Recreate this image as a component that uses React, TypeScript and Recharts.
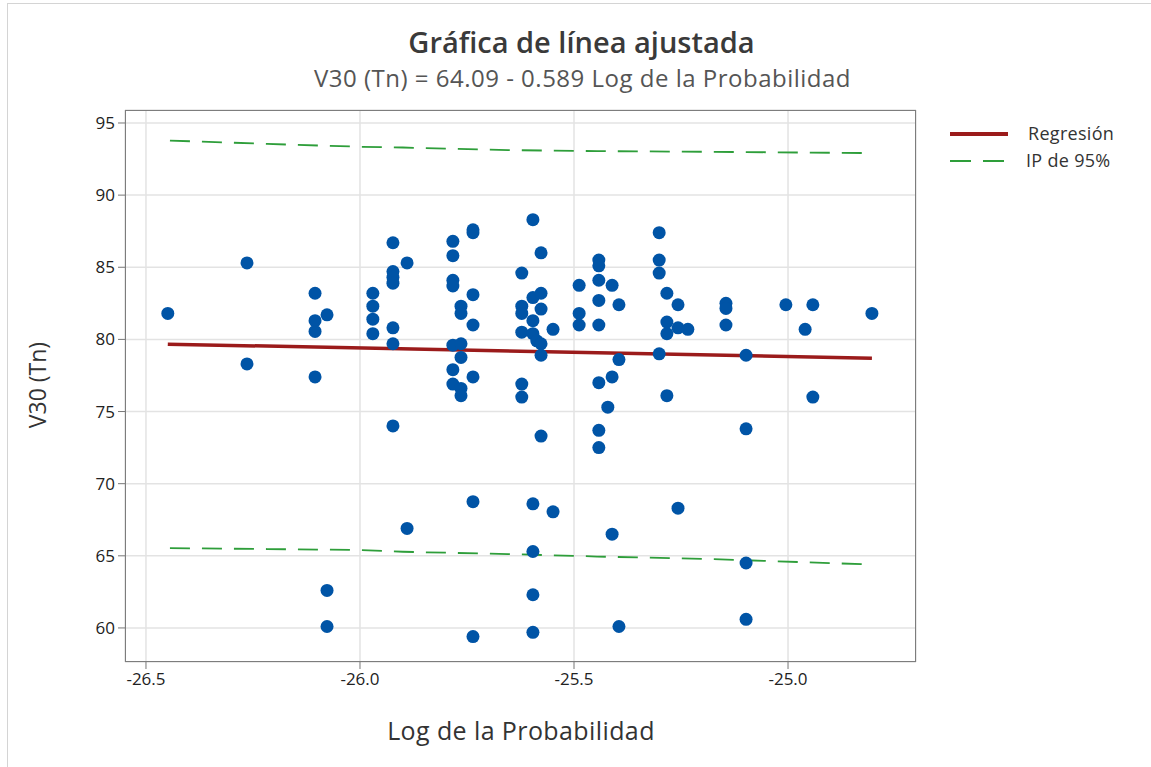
import React from 'react';
import { ComposedChart, Scatter, XAxis, YAxis, CartesianGrid } from 'recharts';

// observed points: Log de la Probabilidad vs V30 (Tn)
const logProb = [
  -26.449, -26.264, -26.264, -26.105, -26.105, -26.105, -26.105, -26.077, -26.077, -26.077,
  -25.97, -25.97, -25.97, -25.97, -25.923, -25.923, -25.923, -25.923, -25.923, -25.923,
  -25.923, -25.89, -25.89, -25.783, -25.783, -25.783, -25.783, -25.783, -25.783, -25.783,
  -25.764, -25.764, -25.764, -25.764, -25.764, -25.764, -25.736, -25.736, -25.736, -25.736,
  -25.736, -25.736, -25.736, -25.622, -25.622, -25.622, -25.622, -25.622, -25.622, -25.596,
  -25.596, -25.596, -25.596, -25.596, -25.596, -25.596, -25.596, -25.587, -25.577, -25.577,
  -25.577, -25.577, -25.577, -25.577, -25.549, -25.549, -25.488, -25.488, -25.488, -25.442,
  -25.442, -25.442, -25.442, -25.442, -25.442, -25.442, -25.442, -25.421, -25.411, -25.411,
  -25.411, -25.395, -25.395, -25.395, -25.301, -25.301, -25.301, -25.301, -25.283, -25.283,
  -25.283, -25.283, -25.257, -25.257, -25.257, -25.234, -25.145, -25.145, -25.145, -25.098,
  -25.098, -25.098, -25.098, -25.005, -24.96, -24.942, -24.942, -24.804,
];
const v30 = [
  81.8, 85.3, 78.3, 83.2, 81.3, 80.55, 77.4, 81.7, 62.6, 60.1,
  83.2, 82.3, 81.4, 80.4, 86.7, 84.7, 84.3, 83.9, 80.8, 79.7,
  74.0, 85.3, 66.9, 86.8, 85.8, 84.1, 83.7, 79.6, 77.9, 76.9,
  82.3, 81.8, 79.7, 78.75, 76.6, 76.1, 87.6, 87.4, 83.1, 81.0,
  77.4, 68.75, 59.4, 84.6, 82.3, 81.8, 80.5, 76.9, 76.0, 88.3,
  82.9, 81.3, 80.4, 68.6, 65.3, 62.3, 59.7, 79.9, 86.0, 83.2,
  82.1, 79.7, 78.9, 73.3, 80.7, 68.05, 83.75, 81.8, 81.0, 85.5,
  85.1, 84.1, 82.7, 81.0, 77.0, 73.7, 72.5, 75.3, 83.75, 77.4,
  66.5, 82.4, 78.6, 60.1, 87.4, 85.5, 84.6, 79.0, 83.2, 81.2,
  80.4, 76.1, 82.4, 80.8, 68.3, 80.7, 82.5, 82.15, 81.0, 78.9,
  73.8, 64.5, 60.6, 82.4, 80.7, 82.4, 76.0, 81.8,
];

// fitted line endpoints
const regX = [-26.449, -24.804];
const regY = [79.67, 78.7];

// 95% prediction interval
const piX = [-26.444, -26.217, -26.0, -25.9, -25.654, -25.446, -25.175, -24.827];
const piUpper = [93.78, 93.55, 93.35, 93.3, 93.12, 93.05, 93.0, 92.92];
const piLower = [65.53, 65.47, 65.4, 65.28, 65.12, 64.95, 64.77, 64.42];

const xTicks = [-26.5, -26.0, -25.5, -25.0];
const yTicks = [60, 65, 70, 75, 80, 85, 90, 95];

const points = logProb.map((x, i) => ({ x, y: v30[i] }));
const regLine = regX.map((x, i) => ({ x, y: regY[i] }));
const upperLine = piX.map((x, i) => ({ x, y: piUpper[i] }));
const lowerLine = piX.map((x, i) => ({ x, y: piLower[i] }));

const FONT = '"Open Sans", "Noto Sans", sans-serif';
const BLUE = '#0054A6';
const RED = '#9B1B1B';
const GREEN = '#2E9E3A';

const Dot = (props: any) => <circle cx={props.cx} cy={props.cy} r={6.5} fill={BLUE} />;
const NoDot = () => <g />;

export default function App() {
  return (
    <div style={{ position: 'absolute', left: 0, top: 0, width: 1151, height: 767, background: '#fff', fontFamily: FONT }}>
      <div style={{ position: 'absolute', left: 7, top: 3, width: 1144, height: 764, borderLeft: '1px solid #d4d4d4', borderTop: '1px solid #d4d4d4' }} />
      <div style={{ position: 'absolute', left: 0, width: 1163, top: 22, textAlign: 'center', fontSize: 29, fontWeight: 600, color: '#3a3a3a' }}>
        Gráfica de línea ajustada
      </div>
      <div style={{ position: 'absolute', left: 0, width: 1165, top: 61, textAlign: 'center', fontSize: 24, letterSpacing: 0.5, color: '#555' }}>
        V30 (Tn) = 64.09 - 0.589 Log de la Probabilidad
      </div>

      <ComposedChart width={1151} height={767} margin={{ top: 110, right: 235, bottom: 75, left: 65 }}>
        <CartesianGrid stroke="#e3e3e3" strokeWidth={1.5} />
        <XAxis
          type="number"
          dataKey="x"
          domain={[-26.549, -24.701]}
          ticks={xTicks}
          allowDataOverflow
          height={30}
          axisLine={false}
          tickLine={{ stroke: '#777' }}
          tickSize={7}
          tickMargin={4}
          tickFormatter={(v: number) => v.toFixed(1)}
          tick={{ fill: '#222', fontSize: 17, fontWeight: 500, fontFamily: FONT }}
        />
        <YAxis
          type="number"
          dataKey="y"
          domain={[57.64, 95.9]}
          ticks={yTicks}
          allowDataOverflow
          width={60}
          axisLine={false}
          tickLine={{ stroke: '#777' }}
          tickSize={7}
          tickMargin={3}
          tick={{ fill: '#222', fontSize: 17, fontWeight: 500, fontFamily: FONT }}
        />
        <Scatter data={upperLine} line={{ stroke: GREEN, strokeWidth: 1.8, strokeDasharray: '20 12' }} shape={NoDot} isAnimationActive={false} />
        <Scatter data={lowerLine} line={{ stroke: GREEN, strokeWidth: 1.8, strokeDasharray: '20 12' }} shape={NoDot} isAnimationActive={false} />
        <Scatter data={regLine} line={{ stroke: RED, strokeWidth: 3.5 }} shape={NoDot} isAnimationActive={false} />
        <Scatter data={points} shape={Dot} isAnimationActive={false} />
      </ComposedChart>

      <div style={{ position: 'absolute', left: 125, top: 110, width: 791, height: 552, border: '1.5px solid #7d7d7d', boxSizing: 'border-box', pointerEvents: 'none' }} />

      <div style={{ position: 'absolute', left: 37, top: 385, transform: 'translate(-50%, -50%) rotate(-90deg)', fontSize: 23, color: '#333', whiteSpace: 'nowrap' }}>
        V30 (Tn)
      </div>
      <div style={{ position: 'absolute', left: 0, width: 1042, top: 713, textAlign: 'center', fontSize: 25, letterSpacing: 0.4, color: '#333' }}>
        Log de la Probabilidad
      </div>

      <svg style={{ position: 'absolute', left: 940, top: 120 }} width={80} height={60}>
        <line x1={10} x2={68} y1={14} y2={14} stroke={RED} strokeWidth={4} />
        <line x1={10} x2={66} y1={41} y2={41} stroke={GREEN} strokeWidth={2} strokeDasharray="21 12" />
      </svg>
      <div style={{ position: 'absolute', left: 1028, top: 121, fontSize: 18, letterSpacing: 0.3, color: '#333' }}>Regresión</div>
      <div style={{ position: 'absolute', left: 1026, top: 148, fontSize: 18, letterSpacing: 0.3, color: '#333' }}>IP de 95%</div>
    </div>
  );
}
